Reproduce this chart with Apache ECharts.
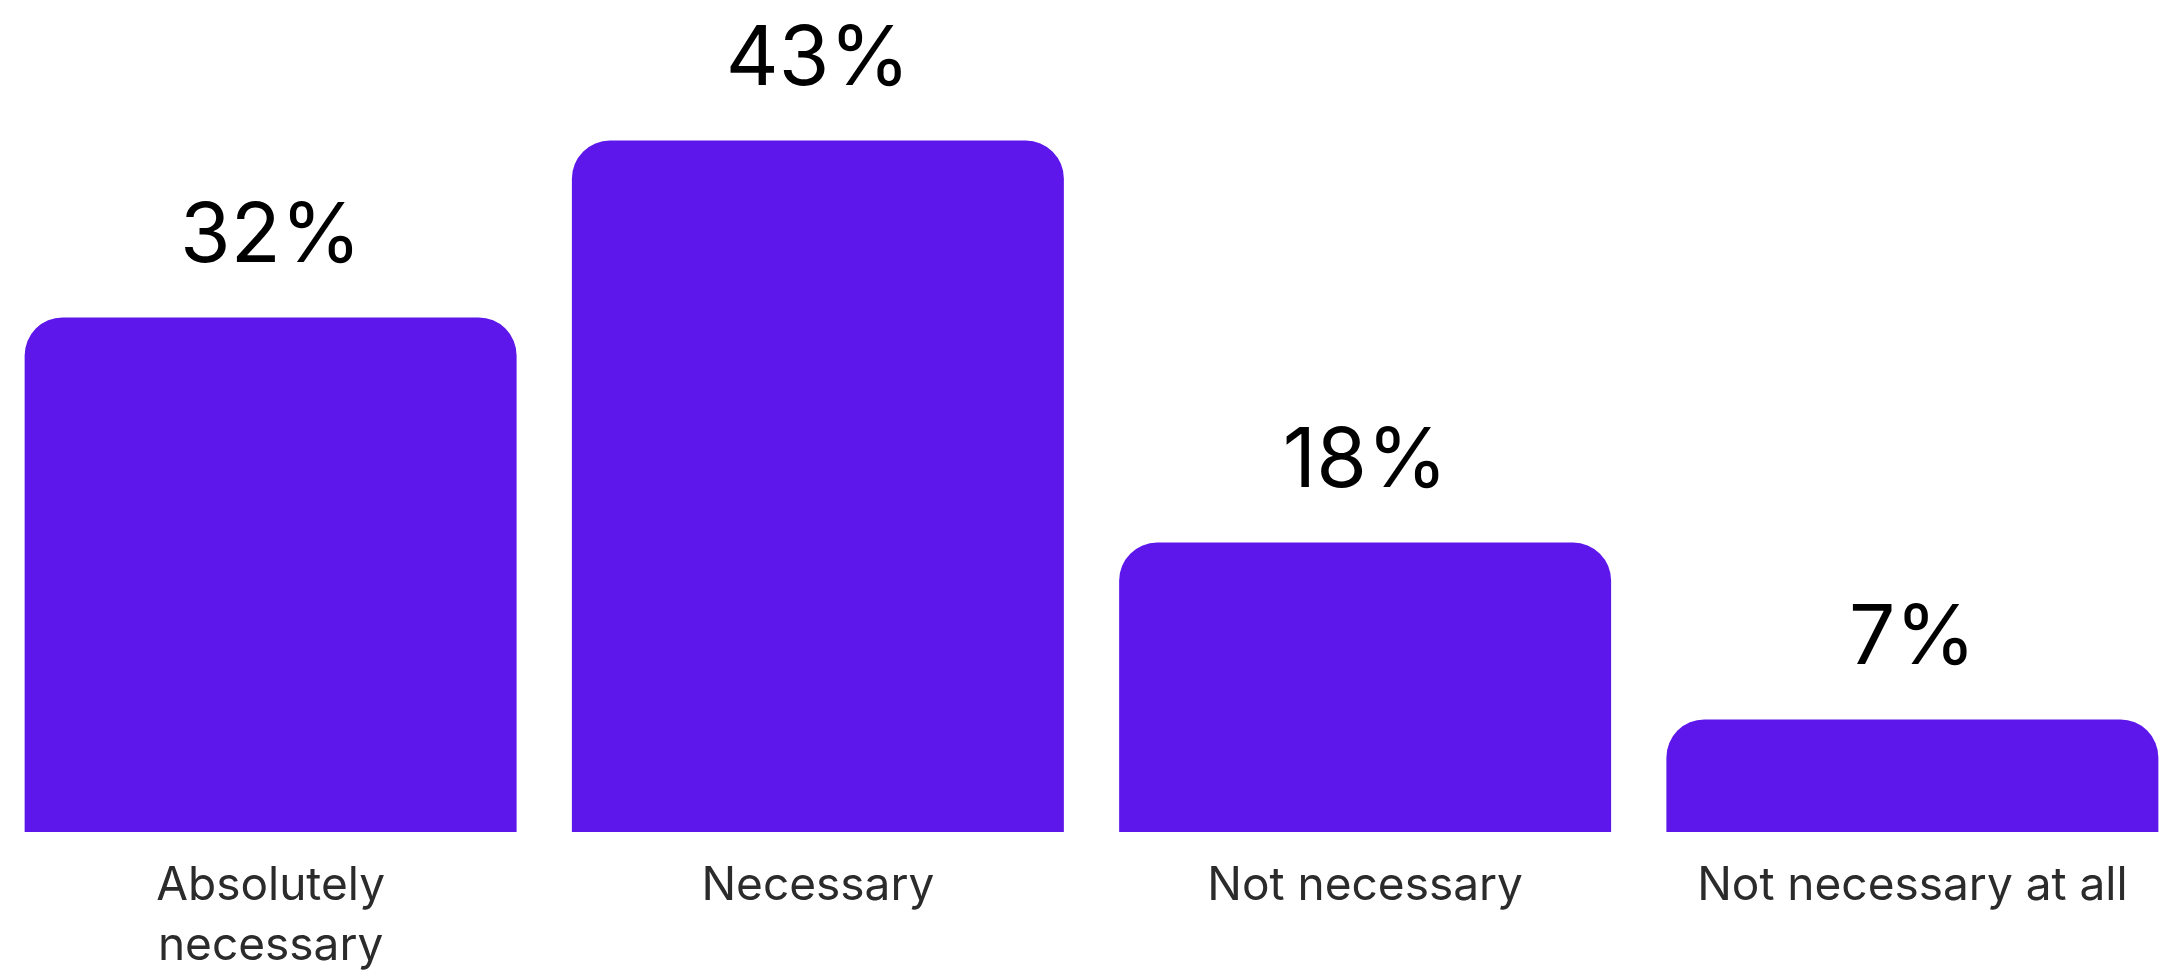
<!DOCTYPE html>
<html>
<head>
    <meta charset="utf-8">
    <title>Necessity survey</title>
    <script src="https://cdn.jsdelivr.net/npm/echarts@6/dist/echarts.min.js"></script>
    <style>
        html, body { margin: 0; padding: 0; background: #fff; }
        #main { width: 2163px; height: 972px; }
    </style>
</head>
<body>
    <div id="main"></div>
    <script type="text/javascript">
        // categories (line break kept as in the picture)
        var categories = ['Absolutely\nnecessary', 'Necessary', 'Not necessary', 'Not necessary at all'];
        // share of answers, %
        var shares = [32, 43, 18, 7];

        var chart = echarts.init(document.getElementById('main'));
        chart.setOption({
            animation: false,
            grid: {
                left: -3, width: 2189, top: 28, height: 804,
                outerBoundsMode: 'none',
                containLabel: false
            },
            xAxis: {
                type: 'category',
                data: categories,
                axisLine: { show: false },
                axisTick: { show: false },
                axisLabel: {
                    interval: 0,
                    margin: 24,
                    color: '#2b2b2b',
                    fontFamily: 'Inter',
                    fontSize: 46,
                    lineHeight: 60
                }
            },
            yAxis: {
                type: 'value',
                min: 0,
                max: 50,
                show: false,
                splitLine: { show: false }
            },
            series: [{
                type: 'bar',
                data: shares,
                barCategoryGap: '10.1%',
                itemStyle: {
                    color: '#5e17eb',
                    borderRadius: [38, 38, 0, 0]
                },
                label: {
                    show: true,
                    position: 'top',
                    distance: 39,
                    formatter: '{c}%',
                    color: '#000',
                    fontFamily: 'Inter',
                    fontSize: 82
                }
            }]
        });
    </script>
</body>
</html>
